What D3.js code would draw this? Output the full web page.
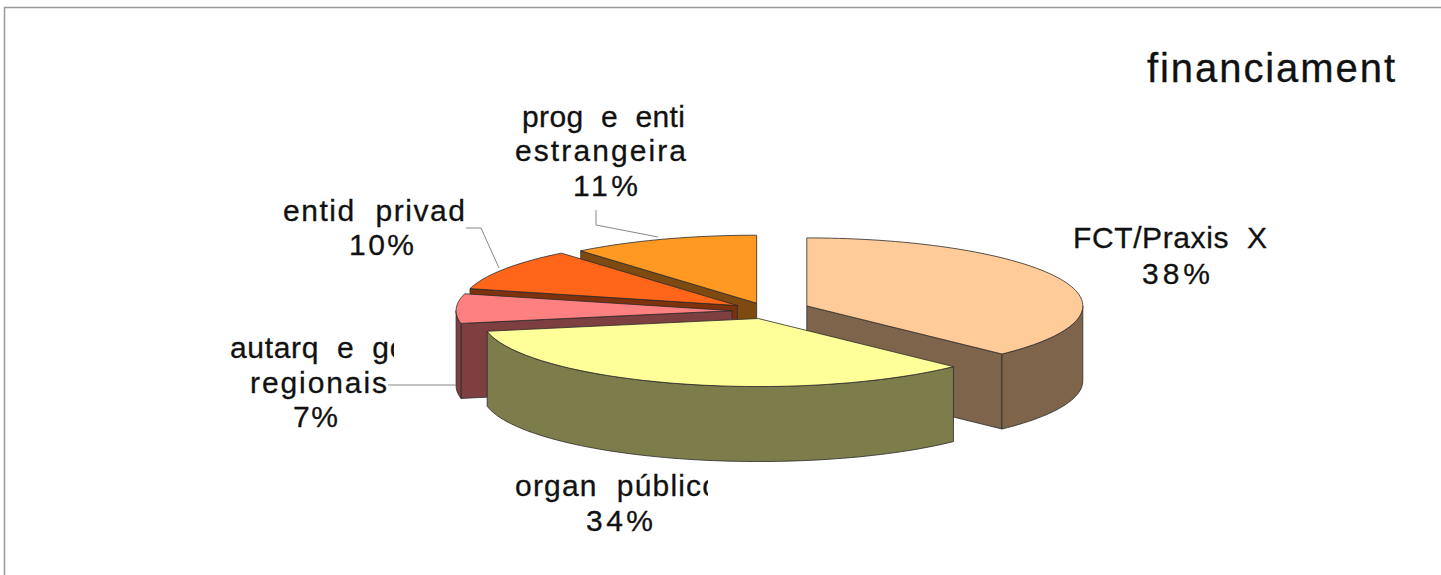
<!DOCTYPE html>
<html>
<head>
<meta charset="utf-8">
<script src="https://cdnjs.cloudflare.com/ajax/libs/d3/7.8.5/d3.min.js"></script>
<style>
  html, body { margin: 0; padding: 0; background: #fff; }
  svg { display: block; }
  text { font-family: "Liberation Sans", sans-serif; fill: #111; stroke: #111; stroke-width: 0.3px; white-space: pre; }
</style>
</head>
<body>
<div id="chart"></div>
<script>
// Data
const categories = ["FCT/Praxis XXI", "organ. públicos", "autarq. e gov. regionais", "entid. privadas", "prog. e entid. estrangeiras"];
const shares = [37.5, 34.5, 7, 10, 11];
const topColors = ["#ffcc99", "#ffff99", "#ff8080", "#ff661a", "#ff9922"];
const explodes = [0.16, 0.095, 0.123, 0.123, 0.1];
const titleText = "financiament";
const labelTexts = [
  ["FCT/Praxis  X", "38%"],
  ["organ  público", "34%"],
  ["autarq  e  gov", "regionais", "7%"],
  ["entid  privad", "10%"],
  ["prog  e  enti", "estrangeira", "11%"]
];

// Layout
const width = 1441, height = 575;
const depth = 75, tilt = 1.22;
const drawOrder = [4, 3, 2, 0, 1];
// one entry per label: text lines [x, baseline, fitted width], clip box right edge
const labelLayout = [
  { lines: [[1073, 248, 194], [1142, 284, 68]], clip: 1268 },
  { lines: [[515, 496, 204], [586, 531, 67]], clip: 708 },
  { lines: [[230, 358, 192], [250, 393, 137], [293, 427, 45]], clip: 394 },
  { lines: [[283, 221, 182], [349, 255, 65]], clip: 466 },
  { lines: [[522, 127, 163], [515, 161, 171], [573, 196, 65]], clip: 687 }
];
const leaders = [
  [[388, 385], [456, 385]],
  [[466, 228], [481, 228], [499, 268]],
  [[596, 210], [596, 225], [658, 237]]
];

const svg = d3.select("#chart").append("svg").attr("width", width).attr("height", height);

// Frame
svg.append("path")
  .attr("d", `M4.5,${height}V7.5H${width}`)
  .attr("fill", "none")
  .attr("stroke", "#999")
  .attr("stroke-width", 1.5);

// Unit circle -> tilted pie plane
const xScale = d3.scaleLinear().domain([-1, 1]).range([490, 1042]);
const yScale = d3.scaleLinear().domain([-1, 1]).range([243, 379]);

const slices = d3.pie().sort(null)(shares).map((s, i) => {
  const mid = (s.startAngle + s.endAngle) / 2;
  return {
    index: i,
    startAngle: s.startAngle,
    endAngle: s.endAngle,
    ox: Math.sin(mid) * explodes[i],
    oy: -Math.cos(mid) * explodes[i] * tilt,
    top: topColors[i],
    side: d3.rgb(topColors[i]).darker(2).formatHex()
  };
});

const line = d3.line();
const rim = (s, a, dz = 0) => [xScale(s.ox + Math.sin(a)), yScale(s.oy - Math.cos(a)) + dz];
const apex = (s, dz = 0) => [xScale(s.ox), yScale(s.oy) + dz];
const arcAngles = (a0, a1) => {
  const n = Math.max(2, Math.ceil((a1 - a0) / 0.03));
  return d3.range(n + 1).map((k) => a0 + ((a1 - a0) * k) / n);
};

function drawFace(g, points, fill) {
  g.append("path")
    .attr("d", line(points) + "Z")
    .attr("fill", fill)
    .attr("stroke", "#2a2a2a")
    .attr("stroke-width", 0.8)
    .attr("stroke-linejoin", "round");
}

const pieGroup = svg.append("g").attr("class", "pie");

drawOrder.forEach((i) => {
  const s = slices[i];
  const g = pieGroup.append("g").attr("class", "slice").attr("data-name", categories[i]);

  // Radial face at the start of the slice
  if (Math.sin(s.startAngle) < -1e-6) {
    drawFace(g, [apex(s), rim(s, s.startAngle), rim(s, s.startAngle, depth), apex(s, depth)], s.side);
  }
  // Radial face at the end of the slice
  if (Math.sin(s.endAngle) > 1e-6) {
    drawFace(g, [apex(s), rim(s, s.endAngle), rim(s, s.endAngle, depth), apex(s, depth)], s.side);
  }
  // Outer wall, only the front half of the ellipse shows
  const a0 = Math.max(s.startAngle, Math.PI / 2);
  const a1 = Math.min(s.endAngle, (3 * Math.PI) / 2);
  if (a1 > a0) {
    const angles = arcAngles(a0, a1);
    drawFace(g, angles.map((a) => rim(s, a)).concat(angles.slice().reverse().map((a) => rim(s, a, depth))), s.side);
  }
  // Top
  drawFace(g, [apex(s)].concat(arcAngles(s.startAngle, s.endAngle).map((a) => rim(s, a))), s.top);
});

// Leader lines
svg.selectAll("path.leader")
  .data(leaders)
  .join("path")
  .attr("class", "leader")
  .attr("d", (d) => line(d))
  .attr("fill", "none")
  .attr("stroke", "#888")
  .attr("stroke-width", 1);

// Labels, clipped on the right like the original text boxes
const defs = svg.append("defs");
labelTexts.forEach((lines, i) => {
  const layout = labelLayout[i];
  defs.append("clipPath")
    .attr("id", `clip-${i}`)
    .append("rect")
    .attr("x", 0)
    .attr("y", 0)
    .attr("width", layout.clip)
    .attr("height", height);
  const g = svg.append("g").attr("clip-path", `url(#clip-${i})`);
  lines.forEach((t, j) => {
    const [x, y, fit] = layout.lines[j];
    g.append("text")
      .attr("x", x)
      .attr("y", y)
      .attr("textLength", fit)
      .attr("lengthAdjust", "spacing")
      .style("font-size", "30px")
      .text(t);
  });
});

// Title
svg.append("text")
  .attr("x", 1147)
  .attr("y", 82)
  .attr("textLength", 248)
  .attr("lengthAdjust", "spacing")
  .style("font-size", "40px")
  .text(titleText);
</script>
</body>
</html>
